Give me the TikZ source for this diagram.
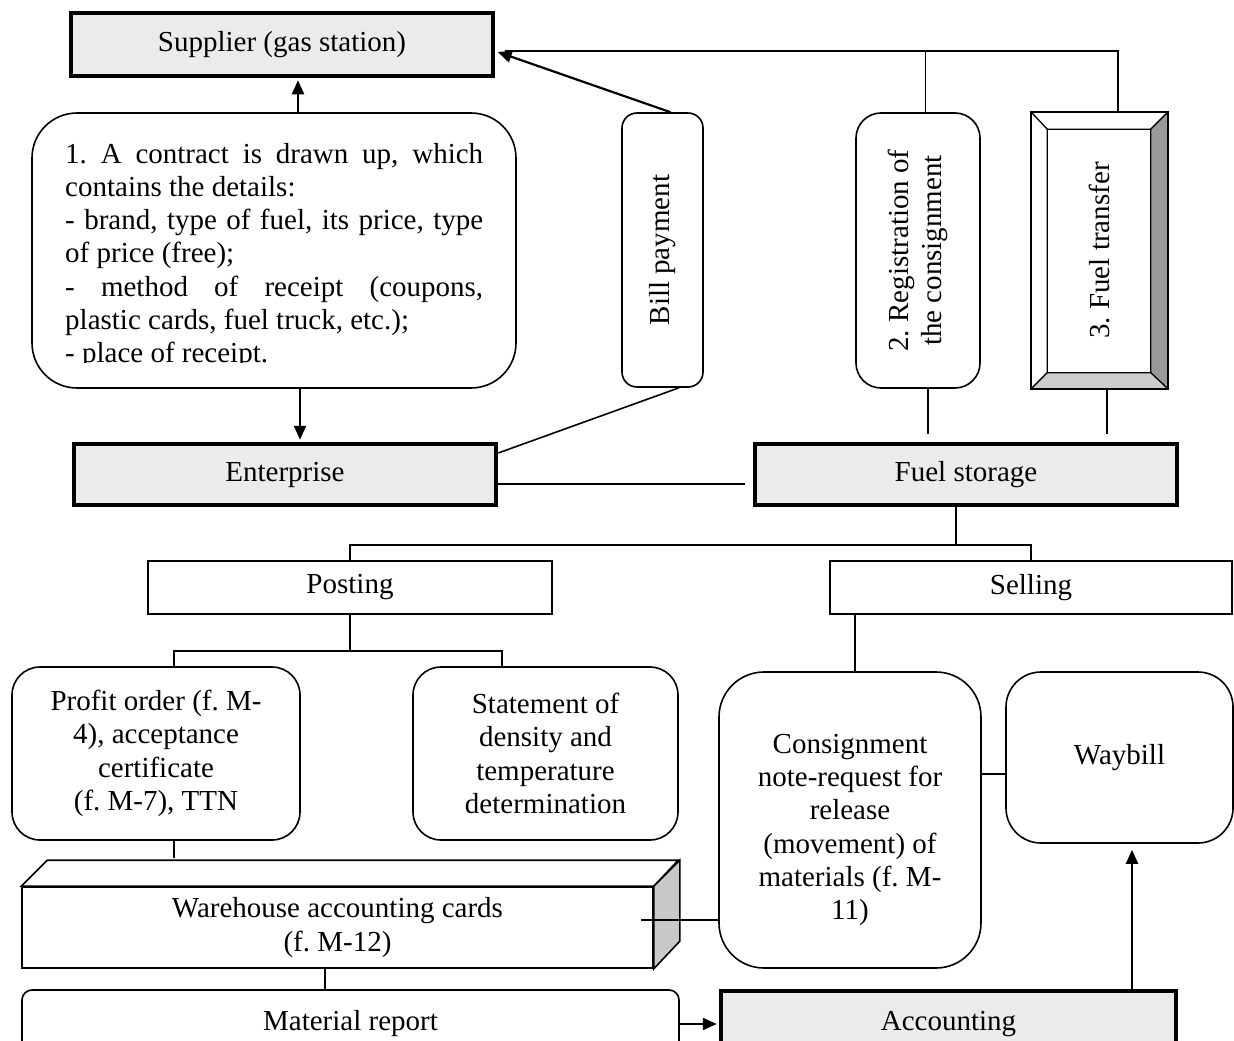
\documentclass[tikz,border=0pt]{standalone}
\usepackage{fontspec}
\setmainfont{Liberation Serif}
\usepackage{graphicx}
\usetikzlibrary{arrows.meta,calc}
\definecolor{boxgray}{HTML}{EBEBEB}
\definecolor{bevdark}{HTML}{999999}
\definecolor{bevlight}{HTML}{CCCCCC}
\definecolor{sidegray}{HTML}{C8C8C8}
\frenchspacing
\begin{document}
\begin{tikzpicture}[x=1pt,y=-1pt,
  every node/.style={font=\fontsize{29}{33.3}\selectfont, inner sep=0pt, align=center},
  plainbox/.style={draw, line width=1.6pt, fill=white},
  thickbox/.style={draw, line width=4.5pt, fill=boxgray},
  conn/.style={line width=1.6pt},
  arr/.style={line width=2.2pt, -{Triangle[length=14pt,width=12pt]}},
  sz/.style 2 args={minimum width=#1pt, minimum height=#2pt}
]
\useasboundingbox (0,0) rectangle (1234,1041);
\clip (0,0) rectangle (1234,1041);

% top row
\node[thickbox, sz={422}{63}] (supplier) at (282,44.5) {Supplier (gas station)};
\node[plainbox, rounded corners=45pt, sz={484}{275}] (contract) at (274,250.5) {};
\begin{scope}
  \clip (32,113) rectangle (516,362);
  \node[anchor=base west, align=left] (contracttext) at (65,163)
   {\parbox[t]{418pt}{\frenchspacing\spaceskip=0.25em plus 0.6em minus 0.05em
    1. A contract is drawn up, which\linebreak
    contains the details:\\
    - brand, type of fuel, its price, type\linebreak
    of price (free);\\
    - method of receipt (coupons,\linebreak
    plastic cards, fuel truck, etc.);\\
    - place of receipt.}};
\end{scope}

\node[plainbox, rounded corners=15pt, sz={81}{274}] (bill) at (662.5,250) {\rotatebox{90}{Bill payment}};
\node[plainbox, rounded corners=25pt, sz={124}{275}] (reg) at (918,250.5)
  {\rotatebox{90}{\begin{tabular}{@{}c@{}}2. Registration of\\the consignment\end{tabular}}};

\node[plainbox, sz={135}{275}] (ft) at (1099.5,250.5) {\rotatebox{90}{3. Fuel transfer}};
\draw[line width=1.2pt, fill=white] (ft.north west) -- (ft.north east) -- ($(ft.north east)+(-17,17)$) -- ($(ft.north west)+(16,17)$) -- cycle;
\draw[line width=1.2pt, fill=white] (ft.north west) -- ($(ft.north west)+(16,17)$) -- ($(ft.south west)+(16,-16)$) -- (ft.south west) -- cycle;
\draw[line width=1.2pt, fill=bevdark] (ft.north east) -- (ft.south east) -- ($(ft.south east)+(-17,-16)$) -- ($(ft.north east)+(-17,17)$) -- cycle;
\draw[line width=1.2pt, fill=bevlight] (ft.south west) -- ($(ft.south west)+(16,-16)$) -- ($(ft.south east)+(-17,-16)$) -- (ft.south east) -- cycle;
\draw[conn] (ft.north west) rectangle (ft.south east);

\node[thickbox, sz={422}{61}] (enterprise) at (285,474.5) {Enterprise};
\node[thickbox, sz={422}{61}] (fuel) at (966,474.5) {Fuel storage};

\node[plainbox, sz={404}{53}] (posting) at (350,587.5) {Posting};
\node[plainbox, sz={402}{53}] (selling) at (1031,587.5) {Selling};

\node[plainbox, rounded corners=28pt, sz={288}{173}] (profit) at (156,753.5)
  {Profit order (f. M-\\4), acceptance\\certificate\\(f. M-7), TTN};
\node[plainbox, rounded corners=28pt, sz={265}{173}] (statement) at (545.5,753.5)
  {Statement of\\density and\\temperature\\determination};
\node[plainbox, rounded corners=45pt, sz={262}{296}] (consign) at (850,820) {};
\node (consigntext) at (850,830)
  {Consignment\\note-request for\\release\\(movement) of\\materials (f. M-\\11)};
\node[plainbox, rounded corners=35pt, sz={227}{171}] (waybill) at (1119.5,757.5) {Waybill};

\node[plainbox, sz={631}{81}] (wh) at (337.5,927.5) {Warehouse accounting cards\\(f. M-12)};
\draw[conn, fill=white] (wh.north west) -- ++(26,-26) -- ++(631,0) -- (wh.north east) -- cycle;
\draw[conn, fill=sidegray] (wh.north east) -- ++(26,-26) -- ++(0,81) -- (wh.south east) -- cycle;

\node[plainbox, rounded corners=10pt, sz={657}{68}] (material) at (350.5,1024) {Material report};
\node[thickbox, sz={455}{66}] (accounting) at (948.5,1024) {Accounting};

% connectors
\coordinate (j1) at ($(supplier.east)+(10,6.5)$);
\draw[arr, shorten >=2pt] ([xshift=24pt]contract.north) -- ([xshift=24pt]contract.north |- supplier.south);
\draw[arr] ([xshift=8pt]bill.north) -- ([xshift=2.5pt,yshift=-7.5pt]supplier.east);
\draw[conn] ([xshift=18.5pt]ft.north) |- (j1);
\draw[conn] ([xshift=7.5pt]reg.north) -- ++(0,-62);

\draw[arr, shorten >=2pt] ([xshift=26pt]contract.south) -- ([xshift=26pt]contract.south |- enterprise.north);
\draw[conn] ([yshift=21.5pt]enterprise.east) -- ([xshift=16.5pt]bill.south);
\draw[conn] ([yshift=-9.5pt]enterprise.east) -- ([xshift=-8pt,yshift=-9.5pt]fuel.west);
\draw[conn] ([xshift=10pt]reg.south) -- ++(0,45);
\draw[conn] ([xshift=7.5pt]ft.south) -- ++(0,45);

\draw[conn] ([xshift=-10pt]fuel.south) -- ++(0,38) coordinate (j2);
\draw[conn] (posting.north) |- (j2) -| (selling.north);
\draw[conn] (posting.south) -- ++(0,36) coordinate (j3);
\draw[conn] ([xshift=18pt]profit.north) |- (j3) -| ([xshift=-43.5pt]statement.north);
\draw[conn] ([xshift=-176pt]selling.south) -- ([xshift=-176pt]selling.south |- consign.north);

\draw[conn] ([xshift=18pt]profit.south) -- ++(0,17);
\draw[conn] ([xshift=-12.5pt]wh.south) -- ([xshift=-12.5pt]wh.south |- material.north);
\draw[conn] ([xshift=-13pt,yshift=7.5pt]wh.east) coordinate (w1) -- (w1 -| consign.west);
\draw[conn] ([yshift=46pt]consign.east) coordinate (c1) -- (c1 -| waybill.west);
\draw[arr, shorten >=2pt] (material.east) -- (accounting.west);
\draw[arr, shorten >=6pt] ([xshift=183.5pt]accounting.north) -- ([xshift=183.5pt]accounting.north |- waybill.south);
\end{tikzpicture}
\end{document}
